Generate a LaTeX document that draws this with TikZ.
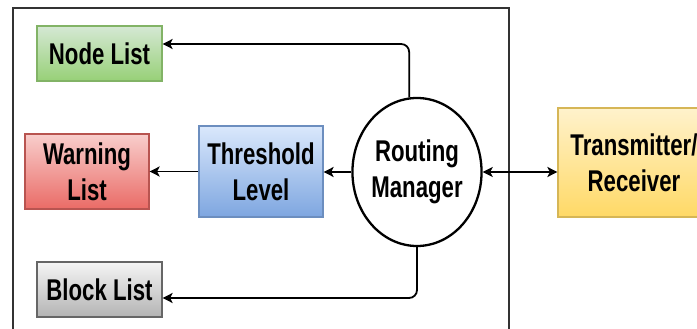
\documentclass[tikz,border=0pt]{standalone}
\usepackage{fontspec}
\newfontfamily\labfont[FakeStretch=0.74]{Liberation Sans}
\usetikzlibrary{arrows.meta,shapes.geometric}
\definecolor{gA}{HTML}{D5E8D4}\definecolor{gB}{HTML}{97D077}\definecolor{gD}{HTML}{82B366}
\definecolor{rA}{HTML}{F8CECC}\definecolor{rB}{HTML}{EA6B66}\definecolor{rD}{HTML}{B85450}
\definecolor{bA}{HTML}{DAE8FC}\definecolor{bB}{HTML}{7EA6E0}\definecolor{bD}{HTML}{6C8EBF}
\definecolor{kA}{HTML}{F5F5F5}\definecolor{kB}{HTML}{B3B3B3}\definecolor{kD}{HTML}{666666}
\definecolor{yA}{HTML}{FFF2CC}\definecolor{yB}{HTML}{FFD966}\definecolor{yD}{HTML}{D6B656}
\begin{document}
\begin{tikzpicture}[x=1pt,y=-1pt,
  lab/.style={font=\labfont\bfseries\fontsize{30}{36}\selectfont,align=center,inner sep=0pt},
  boxn/.style={lab,draw,line width=1.2pt,shading=axis,shading angle=0},
  tip/.style={},
  conn/.style={line width=1.8pt,-{Stealth[length=10pt,width=10pt,inset=2.5pt]}},
  frame/.style={line width=1.5pt,draw=black!80}]
\useasboundingbox (0,0) rectangle (697,329);
\draw[frame] (13,329) -- (13,8) -- (509,8) -- (509,329);
\node[boxn,top color=gA,bottom color=gB,draw=gD,minimum width=125pt,minimum height=55pt] (nl) at (99.5,53.5) {Node List};
\node[boxn,top color=rA,bottom color=rB,draw=rD,minimum width=124pt,minimum height=75pt] (wl) at (87,171.5) {Warning\\List};
\node[boxn,top color=bA,bottom color=bB,draw=bD,minimum width=124pt,minimum height=91pt] (tl) at (261,171.5) {Threshold\\Level};
\node[boxn,top color=kA,bottom color=kB,draw=kD,minimum width=125pt,minimum height=55pt] (bl) at (99.5,289.5) {Block List};
\node[lab,ellipse,draw,line width=2.3pt,fill=white,minimum width=112pt,minimum height=148pt] (rm) at (417,172) {Routing\\Manager};
\node[boxn,top color=yA,bottom color=yB,draw=yD,minimum width=152pt,minimum height=109pt] (tr) at (634,162.5) {Transmitter/\\Receiver};
\draw[conn,rounded corners=8pt] (rm.96) |- ([yshift=9.5pt]nl.east);
\draw[conn,rounded corners=8pt] (rm.south) |- ([yshift=-8.5pt]bl.east);
\draw[conn] (rm.west) -- (tl.east |- rm.west);
\draw[conn] (tl.west) -- (wl.east);
\draw[line width=1.8pt,{Stealth[length=10pt,width=10pt,inset=2.5pt]}-{Stealth[length=10pt,width=10pt,inset=2.5pt]}] (rm.east) -- (tr.west |- rm.east);
\end{tikzpicture}
\end{document}
